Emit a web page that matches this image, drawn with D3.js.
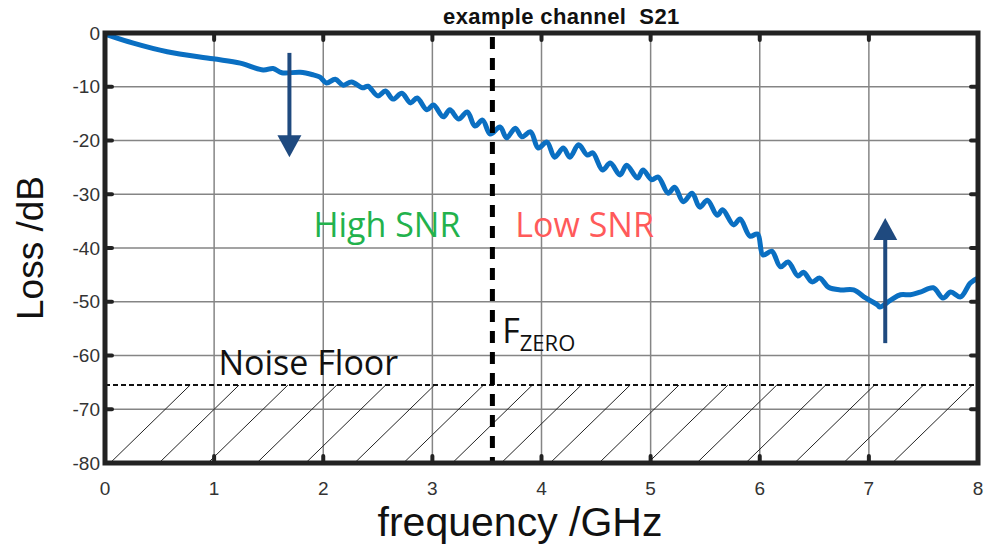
<!DOCTYPE html>
<html>
<head>
<meta charset="utf-8">
<title>example channel S21</title>
<script src="https://d3js.org/d3.v7.min.js"></script>
<style>
  body { margin: 0; background: #fff; }
  svg { display: block; }
</style>
</head>
<body>
<div id="viz"></div>
<script>
// S21 loss (frequency in GHz, loss in dB)
var freq = [0, 0.26, 0.57, 0.99, 1.24, 1.45, 1.54, 1.62, 1.79, 1.91,
  1.97, 2.03, 2.11, 2.18, 2.26, 2.36, 2.41, 2.50, 2.57, 2.64,
  2.72, 2.80, 2.86, 2.95, 3.01, 3.10, 3.16, 3.24, 3.32, 3.39,
  3.46, 3.53, 3.62, 3.68, 3.76, 3.82, 3.90, 3.97, 4.05, 4.12,
  4.20, 4.26, 4.34, 4.42, 4.47, 4.56, 4.63, 4.72, 4.78, 4.88,
  4.93, 5.01, 5.07, 5.16, 5.22, 5.30, 5.38, 5.45, 5.52, 5.61,
  5.66, 5.76, 5.82, 5.91, 5.98, 6.03, 6.11, 6.19, 6.26, 6.35,
  6.40, 6.48, 6.55, 6.63, 6.74, 6.86, 6.97, 7.08, 7.10, 7.20,
  7.29, 7.38, 7.47, 7.59, 7.68, 7.75, 7.84, 7.93, 8.00];
var loss = [-0.2, -1.9, -3.5, -4.8, -5.6, -6.9, -6.6, -7.4, -7.3, -7.8,
  -8.2, -9.3, -8.6, -9.7, -9.1, -10.2, -9.9, -11.7, -10.8, -12.3,
  -11.2, -13.0, -12.1, -14.3, -13.4, -15.6, -14.3, -16.0, -14.7, -17.3,
  -16.2, -18.8, -17.5, -19.5, -17.7, -19.3, -18.4, -21.4, -20.3, -23.1,
  -21.4, -23.1, -20.8, -22.7, -22.3, -25.5, -24.2, -26.4, -24.6, -27.0,
  -25.5, -27.3, -26.8, -29.8, -28.7, -31.4, -29.8, -32.4, -31.1, -33.9,
  -32.9, -35.7, -34.6, -37.8, -37.4, -41.3, -40.6, -43.5, -42.6, -45.2,
  -44.5, -46.3, -45.6, -47.3, -47.8, -47.8, -49.3, -50.6, -51.0, -49.7,
  -48.7, -48.7, -48.2, -47.4, -49.3, -48.2, -49.1, -46.5, -45.6];

var xTicks = [0, 1, 2, 3, 4, 5, 6, 7, 8];
var yTicks = [0, -10, -20, -30, -40, -50, -60, -70, -80];

var noiseFloor = -65.5;   // dB
var fZero = 3.55;         // GHz
var downArrow = [1.69, -3.7, -23.1];   // f, from, to
var upArrow = [7.15, -57.7, -34.4];

var margin = { top: 33, right: 11, bottom: 89, left: 105 },
  width = 989 - margin.left - margin.right,
  height = 552 - margin.top - margin.bottom;

var svg = d3.select("#viz")
  .append("svg")
  .attr("width", 989)
  .attr("height", 552);

var g = svg.append("g")
  .attr("transform", "translate(" + margin.left + "," + margin.top + ")");

var x = d3.scaleLinear().domain([0, 8]).range([0, width]);
var y = d3.scaleLinear().domain([-80, 0]).range([height, 0]);

svg.append("defs").append("clipPath").attr("id", "clip")
  .append("rect").attr("width", width).attr("height", height);

// grid
g.append("g").selectAll("line").data(xTicks.slice(1, -1)).enter().append("line")
  .attr("x1", function (d) { return x(d) }).attr("x2", function (d) { return x(d) })
  .attr("y1", 0).attr("y2", height)
  .attr("stroke", "#858585").attr("stroke-width", 1.5);
g.append("g").selectAll("line").data(yTicks.slice(1, -1)).enter().append("line")
  .attr("y1", function (d) { return y(d) }).attr("y2", function (d) { return y(d) })
  .attr("x1", 0).attr("x2", width)
  .attr("stroke", "#858585").attr("stroke-width", 1.5);

// hatching below the noise floor
var hatch = d3.range(17).map(function (k) { return 0.78 + k * 0.448 });
g.append("g").attr("clip-path", "url(#clip)")
  .selectAll("line").data(hatch).enter().append("line")
  .attr("x1", function (d) { return x(d - 0.733) })
  .attr("y1", y(-80))
  .attr("x2", function (d) { return x(d) })
  .attr("y2", y(noiseFloor))
  .attr("stroke", "#222").attr("stroke-width", 1);

// noise floor
g.append("line")
  .attr("x1", 0).attr("x2", width)
  .attr("y1", y(noiseFloor)).attr("y2", y(noiseFloor))
  .attr("stroke", "#111").attr("stroke-width", 2)
  .attr("stroke-dasharray", "5,3");

// S21 curve
g.append("path")
  .datum(d3.zip(freq, loss))
  .attr("clip-path", "url(#clip)")
  .attr("d", d3.line()
    .x(function (d) { return x(d[0]) })
    .y(function (d) { return y(d[1]) })
    .curve(d3.curveCatmullRom))
  .attr("fill", "none")
  .attr("stroke", "#0a6fc2")
  .attr("stroke-width", 5)
  .attr("stroke-linejoin", "round");

// F_ZERO marker
g.append("line")
  .attr("x1", x(fZero)).attr("x2", x(fZero))
  .attr("y1", 4).attr("y2", height)
  .attr("stroke", "#000").attr("stroke-width", 5)
  .attr("stroke-dasharray", "12,9");

// arrows
function arrow(a) {
  var dir = a[2] < a[1] ? 1 : -1;
  var tip = y(a[2]);
  g.append("line")
    .attr("x1", x(a[0])).attr("x2", x(a[0]))
    .attr("y1", y(a[1])).attr("y2", tip - dir * 18)
    .attr("stroke", "#1f4a7f").attr("stroke-width", 4);
  g.append("path")
    .attr("d", "M" + (x(a[0]) - 12) + "," + (tip - dir * 22) +
      "L" + (x(a[0]) + 12) + "," + (tip - dir * 22) +
      "L" + x(a[0]) + "," + tip + "Z")
    .attr("fill", "#1f4a7f");
}
arrow(downArrow);
arrow(upArrow);

// annotations
g.append("text").attr("x", x(1.91)).attr("y", y(-38))
  .style("font", "34px 'Open Sans'").attr("fill", "#22b24c").text("High SNR");
g.append("text").attr("x", x(3.76)).attr("y", y(-38))
  .style("font", "34px 'Open Sans'").attr("fill", "#ff5a5a").text("Low SNR");
g.append("text").attr("x", x(1.04)).attr("y", y(-63.6))
  .style("font", "34px 'Open Sans'").attr("fill", "#111").text("Noise Floor");
var fz = g.append("text").attr("x", x(3.64)).attr("y", y(-57.7))
  .style("font", "34px 'Open Sans'").attr("fill", "#111");
fz.append("tspan").text("F");
fz.append("tspan").attr("dy", 8).style("font-size", "22px").text("ZERO");

// frame and inward ticks
g.append("rect").attr("width", width).attr("height", height)
  .attr("fill", "none").attr("stroke", "#222").attr("stroke-width", 5);
var tk = g.append("g").attr("stroke", "#222").attr("stroke-width", 4)
  .attr("stroke-linecap", "round");
xTicks.slice(1, -1).forEach(function (d) {
  tk.append("line").attr("x1", x(d)).attr("x2", x(d)).attr("y1", height).attr("y2", height - 7);
  tk.append("line").attr("x1", x(d)).attr("x2", x(d)).attr("y1", 0).attr("y2", 7);
});
yTicks.slice(1, -1).forEach(function (d) {
  tk.append("line").attr("y1", y(d)).attr("y2", y(d)).attr("x1", 0).attr("x2", 7);
  tk.append("line").attr("y1", y(d)).attr("y2", y(d)).attr("x1", width).attr("x2", width - 7);
});

// tick labels
g.append("g").selectAll("text").data(xTicks).enter().append("text")
  .attr("x", function (d) { return x(d) })
  .attr("y", height + 32)
  .attr("text-anchor", "middle")
  .style("font", "19px 'Liberation Sans'").attr("fill", "#333")
  .text(function (d) { return d });
g.append("g").selectAll("text").data(yTicks).enter().append("text")
  .attr("x", -5)
  .attr("y", function (d) { return y(d) })
  .attr("dy", "0.35em")
  .attr("text-anchor", "end")
  .style("font", "19px 'Liberation Sans'").attr("fill", "#333")
  .text(function (d) { return d });

// titles
svg.append("text").attr("x", 443).attr("y", 24)
  .style("font", "bold 22px 'Liberation Sans'")
  .style("white-space", "pre")
  .style("letter-spacing", "0.4px")
  .attr("fill", "#111")
  .text("example channel  S21");
svg.append("text").attr("x", 520).attr("y", 536)
  .attr("text-anchor", "middle")
  .style("font", "41px 'Liberation Sans'").attr("fill", "#111")
  .text("frequency /GHz");
svg.append("text")
  .attr("transform", "translate(43," + (margin.top + height / 2) + ") rotate(-90)")
  .attr("text-anchor", "middle")
  .style("font", "37px 'Liberation Sans'").attr("fill", "#111")
  .text("Loss /dB");
</script>
</body>
</html>
